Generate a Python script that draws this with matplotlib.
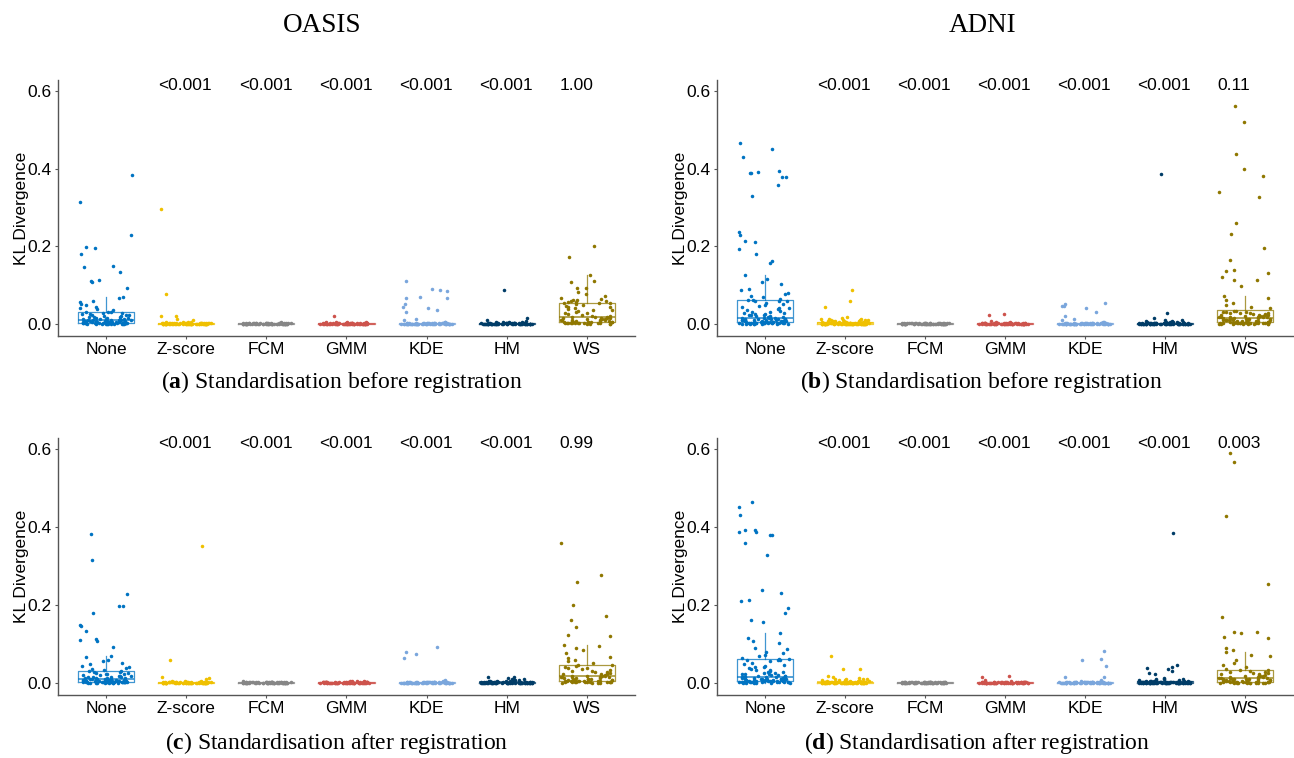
import numpy as np
import matplotlib.pyplot as plt

plt.rcParams['font.family'] = ['Liberation Sans', 'DejaVu Sans']
plt.rcParams['mathtext.fontset'] = 'custom'
plt.rcParams['mathtext.rm'] = 'Liberation Serif'
plt.rcParams['mathtext.bf'] = 'Liberation Serif:bold'

methods = ["None", "Z-score", "FCM", "GMM", "KDE", "HM", "WS"]
colors = ["#0073C2", "#EFC000", "#868686", "#CD534C", "#7AA6DC", "#003C67", "#8F7700"]

# dense cluster of near-zero values shared by the normalised groups
zero_band = [0.0030, 0.0028, 0.0027, 0.0026, 0.0025, 0.0024, 0.0023, 0.0022, 0.0021, 0.0020,
             0.0019, 0.0019, 0.0018, 0.0017, 0.0016, 0.0016, 0.0015, 0.0014, 0.0014, 0.0013,
             0.0012, 0.0012, 0.0011, 0.0011, 0.0010, 0.0010, 0.0009, 0.0009, 0.0008, 0.0008,
             0.0007, 0.0007, 0.0007, 0.0006, 0.0006, 0.0006, 0.0005, 0.0005, 0.0005, 0.0004,
             0.0004, 0.0004, 0.0004, 0.0003, 0.0003, 0.0003, 0.0003, 0.0002, 0.0002, 0.0002,
             0.0002, 0.0002, 0.0001, 0.0001, 0.0001, 0.0001, 0.0001, 0.0001, 0.0000, 0.0000]

# ---- OASIS ----
oasis_none = [0.383, 0.314, 0.229, 0.198, 0.196, 0.180, 0.149, 0.146, 0.134, 0.113,
              0.110, 0.107, 0.092, 0.069, 0.066, 0.059, 0.057, 0.052, 0.049, 0.044,
              0.040, 0.038, 0.035, 0.032, 0.031, 0.030, 0.028, 0.027, 0.026, 0.025,
              0.024, 0.023, 0.022, 0.021, 0.020, 0.019, 0.018, 0.017, 0.016, 0.015,
              0.015, 0.014, 0.013, 0.013, 0.012, 0.012, 0.011, 0.011, 0.010, 0.010,
              0.009, 0.009, 0.008, 0.008, 0.008, 0.007, 0.007, 0.007, 0.006, 0.006,
              0.006, 0.006, 0.005, 0.005, 0.005, 0.005, 0.004, 0.004, 0.004, 0.004,
              0.004, 0.003, 0.003, 0.003, 0.003, 0.0029, 0.0027, 0.0025, 0.0024, 0.0022,
              0.0021, 0.0020, 0.0019, 0.0018, 0.0017, 0.0016, 0.0015, 0.0014, 0.0013, 0.0012,
              0.0011, 0.0010, 0.0009, 0.0008, 0.0007, 0.0006, 0.0005, 0.0004, 0.0003, 0.0002]

oasis_pre_z = [0.296, 0.076, 0.021, 0.020, 0.013, 0.011, 0.006, 0.005, 0.004, 0.004]
oasis_pre_fcm = [0.006, 0.003, 0.002]
oasis_pre_gmm = [0.021, 0.006, 0.005, 0.005, 0.004]
oasis_pre_kde = [0.110, 0.090, 0.088, 0.086, 0.070, 0.068, 0.066, 0.052, 0.045, 0.040,
                 0.035, 0.031, 0.012, 0.010, 0.005, 0.004]
oasis_pre_hm = [0.088, 0.015, 0.010, 0.008, 0.006, 0.005, 0.005, 0.004]
oasis_pre_ws = [0.201, 0.172, 0.125, 0.110, 0.107, 0.093, 0.092, 0.082, 0.076, 0.071,
                0.068, 0.065, 0.063, 0.061, 0.060, 0.058, 0.057, 0.056, 0.055, 0.054,
                0.053, 0.051, 0.049, 0.047, 0.045, 0.043, 0.041, 0.039, 0.037, 0.035,
                0.033, 0.031, 0.029, 0.027, 0.025, 0.023, 0.021, 0.020, 0.018, 0.017,
                0.017, 0.016, 0.016, 0.015, 0.015, 0.014, 0.013, 0.013, 0.012, 0.011,
                0.011, 0.010, 0.009, 0.009, 0.008, 0.007, 0.007, 0.006, 0.006, 0.005,
                0.0049, 0.0047, 0.0045, 0.0043, 0.0040, 0.0038, 0.0036, 0.0034, 0.0031, 0.0029,
                0.0027, 0.0024, 0.0022, 0.0019, 0.0017, 0.0014, 0.0012, 0.0009, 0.0006, 0.0003]

oasis_post_z = [0.350, 0.058, 0.014, 0.012, 0.009, 0.006, 0.005, 0.004]
oasis_post_fcm = [0.005, 0.002]
oasis_post_gmm = [0.005, 0.005, 0.004, 0.004]
oasis_post_kde = [0.092, 0.079, 0.074, 0.065, 0.008, 0.005, 0.004]
oasis_post_hm = [0.016, 0.015, 0.012, 0.010, 0.009, 0.008, 0.008, 0.007, 0.006, 0.006,
                 0.005, 0.005, 0.004, 0.004]
oasis_post_ws = [0.358, 0.276, 0.258, 0.201, 0.171, 0.162, 0.143, 0.124, 0.121, 0.097,
                 0.094, 0.090, 0.085, 0.076, 0.067, 0.063, 0.059, 0.055, 0.050, 0.047,
                 0.045, 0.043, 0.041, 0.039, 0.037, 0.035, 0.033, 0.031, 0.030, 0.028,
                 0.027, 0.025, 0.024, 0.023, 0.022, 0.021, 0.020, 0.019, 0.018, 0.017,
                 0.017, 0.016, 0.016, 0.015, 0.014, 0.014, 0.013, 0.012, 0.012, 0.011,
                 0.010, 0.010, 0.009, 0.008, 0.008, 0.007, 0.007, 0.006, 0.006, 0.005,
                 0.0048, 0.0046, 0.0043, 0.0041, 0.0038, 0.0036, 0.0034, 0.0031, 0.0029, 0.0026,
                 0.0024, 0.0022, 0.0019, 0.0017, 0.0014, 0.0012, 0.0010, 0.0007, 0.0005, 0.0002]

# ---- ADNI ----
adni_none = [0.465, 0.451, 0.431, 0.393, 0.391, 0.388, 0.388, 0.379, 0.378, 0.359,
             0.329, 0.237, 0.230, 0.213, 0.211, 0.192, 0.179, 0.162, 0.156, 0.127,
             0.116, 0.107, 0.102, 0.090, 0.088, 0.080, 0.076, 0.071, 0.069, 0.064,
             0.062, 0.061, 0.060, 0.059, 0.058, 0.055, 0.052, 0.049, 0.046, 0.044,
             0.042, 0.040, 0.038, 0.036, 0.034, 0.032, 0.030, 0.029, 0.027, 0.026,
             0.025, 0.024, 0.023, 0.022, 0.021, 0.020, 0.019, 0.018, 0.017, 0.016,
             0.016, 0.015, 0.015, 0.014, 0.014, 0.013, 0.013, 0.012, 0.012, 0.011,
             0.011, 0.010, 0.010, 0.010, 0.009, 0.009, 0.009, 0.008, 0.008, 0.008,
             0.007, 0.007, 0.007, 0.006, 0.006, 0.006, 0.006, 0.005, 0.005, 0.005,
             0.0048, 0.0046, 0.0045, 0.0043, 0.0041, 0.0040, 0.0038, 0.0036, 0.0035, 0.0033,
             0.0031, 0.0030, 0.0028, 0.0027, 0.0025, 0.0023, 0.0022, 0.0020, 0.0019, 0.0017,
             0.0016, 0.0014, 0.0012, 0.0011, 0.0009, 0.0008, 0.0006, 0.0005, 0.0003, 0.0002]

adni_pre_z = [0.088, 0.060, 0.043, 0.018, 0.015, 0.013, 0.012, 0.012, 0.011, 0.010,
              0.010, 0.009, 0.009, 0.008, 0.008, 0.007, 0.007, 0.006, 0.006, 0.005,
              0.005, 0.005, 0.004, 0.004]
adni_pre_fcm = [0.002, 0.0015]
adni_pre_gmm = [0.026, 0.024, 0.007, 0.005, 0.004]
adni_pre_kde = [0.054, 0.052, 0.047, 0.046, 0.041, 0.030, 0.020, 0.013, 0.011, 0.006, 0.005]
adni_pre_hm = [0.387, 0.028, 0.015, 0.011, 0.009, 0.008, 0.007, 0.006, 0.006, 0.005,
               0.005, 0.004, 0.004, 0.004]
adni_pre_ws = [0.562, 0.519, 0.437, 0.398, 0.382, 0.341, 0.326, 0.259, 0.232, 0.196,
               0.166, 0.140, 0.137, 0.131, 0.121, 0.114, 0.113, 0.098, 0.071, 0.068,
               0.061, 0.055, 0.050, 0.045, 0.040, 0.034, 0.033, 0.032, 0.031, 0.030,
               0.029, 0.028, 0.027, 0.027, 0.026, 0.025, 0.024, 0.023, 0.023, 0.022,
               0.021, 0.021, 0.020, 0.020, 0.019, 0.019, 0.018, 0.018, 0.017, 0.017,
               0.016, 0.016, 0.015, 0.015, 0.014, 0.014, 0.013, 0.012, 0.012, 0.011,
               0.011, 0.010, 0.010, 0.009, 0.009, 0.008, 0.008, 0.007, 0.007, 0.006,
               0.006, 0.005, 0.005, 0.005, 0.004, 0.0039, 0.0037, 0.0036, 0.0034, 0.0032,
               0.0031, 0.0029, 0.0027, 0.0026, 0.0024, 0.0023, 0.0021, 0.0019, 0.0018, 0.0016,
               0.0015, 0.0013, 0.0011, 0.0010, 0.0008, 0.0007, 0.0005, 0.0004, 0.0002, 0.0001]

adni_post_z = [0.070, 0.036, 0.035, 0.018, 0.016, 0.012, 0.011, 0.010, 0.009, 0.009,
               0.008, 0.007, 0.007, 0.006, 0.006, 0.005, 0.005, 0.004, 0.004]
adni_post_fcm = [0.002, 0.0015]
adni_post_gmm = [0.019, 0.014, 0.008, 0.004]
adni_post_kde = [0.083, 0.061, 0.058, 0.044, 0.016, 0.014, 0.008, 0.005]
adni_post_hm = [0.385, 0.045, 0.041, 0.038, 0.035, 0.031, 0.025, 0.022, 0.013, 0.011,
                0.010, 0.009, 0.008, 0.008, 0.007, 0.006, 0.006, 0.005, 0.005, 0.004, 0.004]
adni_post_ws = [0.590, 0.566, 0.428, 0.254, 0.169, 0.131, 0.130, 0.128, 0.118, 0.116,
                0.089, 0.085, 0.079, 0.071, 0.068, 0.060, 0.052, 0.045, 0.040, 0.036,
                0.033, 0.032, 0.030, 0.029, 0.027, 0.026, 0.025, 0.023, 0.022, 0.021,
                0.020, 0.019, 0.018, 0.017, 0.016, 0.015, 0.014, 0.013, 0.013, 0.012,
                0.012, 0.011, 0.011, 0.010, 0.010, 0.009, 0.009, 0.008, 0.008, 0.007,
                0.007, 0.006, 0.006, 0.005, 0.005, 0.004, 0.004, 0.003, 0.003, 0.002,
                0.0019, 0.0018, 0.0017, 0.0016, 0.0015, 0.0014, 0.0013, 0.0012, 0.0011, 0.0010,
                0.0009, 0.0008, 0.0007, 0.0006, 0.0005, 0.0004, 0.0003, 0.0002, 0.0001, 0.0001]

pvals_a = ["", "<0.001", "<0.001", "<0.001", "<0.001", "<0.001", "1.00"]
pvals_b = ["", "<0.001", "<0.001", "<0.001", "<0.001", "<0.001", "0.11"]
pvals_c = ["", "<0.001", "<0.001", "<0.001", "<0.001", "<0.001", "0.99"]
pvals_d = ["", "<0.001", "<0.001", "<0.001", "<0.001", "<0.001", "0.003"]

panels = [
    ([oasis_none, oasis_pre_z + zero_band, oasis_pre_fcm + zero_band, oasis_pre_gmm + zero_band,
      oasis_pre_kde + zero_band, oasis_pre_hm + zero_band, oasis_pre_ws],
     pvals_a, [0.0448, 0.5567, 0.4459, 0.3377], "a", "Standardisation before registration"),
    ([adni_none, adni_pre_z + zero_band, adni_pre_fcm + zero_band, adni_pre_gmm + zero_band,
      adni_pre_kde + zero_band, adni_pre_hm + zero_band, adni_pre_ws],
     pvals_b, [0.5541, 0.5567, 0.4451, 0.3377], "b", "Standardisation before registration"),
    ([oasis_none, oasis_post_z + zero_band, oasis_post_fcm + zero_band, oasis_post_gmm + zero_band,
      oasis_post_kde + zero_band, oasis_post_hm + zero_band, oasis_post_ws],
     pvals_c, [0.0448, 0.0831, 0.4459, 0.3391], "c", "Standardisation after registration"),
    ([adni_none, adni_post_z + zero_band, adni_post_fcm + zero_band, adni_post_gmm + zero_band,
      adni_post_kde + zero_band, adni_post_hm + zero_band, adni_post_ws],
     pvals_d, [0.5541, 0.0831, 0.4451, 0.3391], "d", "Standardisation after registration"),
]
caption_xy = {"a": (342, 382), "b": (982, 382), "c": (337, 743), "d": (977, 743)}

fig = plt.figure(figsize=(12.94, 7.58), dpi=100)

for k, (groups, pvals, rect, letter, caption) in enumerate(panels):
    ax = fig.add_axes(rect)
    pos = np.arange(1, len(methods) + 1)
    for i, (vals, c) in enumerate(zip(groups, colors)):
        vals = np.asarray(vals)
        ax.boxplot(vals, positions=[pos[i]], widths=0.7, showfliers=False, showcaps=False,
                   boxprops=dict(color=c, lw=0.9, alpha=0.75),
                   whiskerprops=dict(color=c, lw=0.9, alpha=0.75),
                   medianprops=dict(color=c, lw=1.1, alpha=0.85))
        # deterministic horizontal jitter (hash of the point index)
        idx = np.arange(len(vals)) + 17 * i + 5 * k
        frac = np.abs(np.modf(np.sin(idx * 12.9898 + 4.1414) * 43758.5453)[0])
        jit = (frac - 0.5) * 0.66
        ax.scatter(pos[i] + jit, vals, s=6.5, color=c, linewidths=0, zorder=3)
        if pvals[i]:
            ax.text(pos[i] - 0.345, 0.613, pvals[i], ha="left", va="center", fontsize=12.5)

    ax.set_xlim(0.4, 7.6)
    ax.set_ylim(-0.031, 0.628)
    ax.set_xticks(pos)
    ax.set_xticklabels(methods)
    ax.set_yticks([0.0, 0.2, 0.4, 0.6])
    ax.set_yticklabels(["0.0", "0.2", "0.4", "0.6"])
    ax.tick_params(labelsize=12.5, length=2.5, width=0.8, color="#555555", labelcolor="black", pad=2)
    for s in ["top", "right"]:
        ax.spines[s].set_visible(False)
    for s in ["left", "bottom"]:
        ax.spines[s].set_color("#555555")
        ax.spines[s].set_linewidth(1.0)
    ax.set_ylabel("KL Divergence", fontsize=12.5)
    ax.yaxis.set_label_coords(-0.051, 0.5)

    cx, cy = caption_xy[letter]
    fig.text(cx / 1294, 1 - cy / 758, r"($\mathbf{%s}$) %s" % (letter, caption), ha="center",
             va="center", fontsize=17, family="Liberation Serif")

fig.text(322 / 1294, 1 - 25 / 758, "OASIS", ha="center", va="center", fontsize=19.5, family="Liberation Serif")
fig.text(983 / 1294, 1 - 25 / 758, "ADNI", ha="center", va="center", fontsize=19.5, family="Liberation Serif")

fig.savefig("out.png", dpi=100)
